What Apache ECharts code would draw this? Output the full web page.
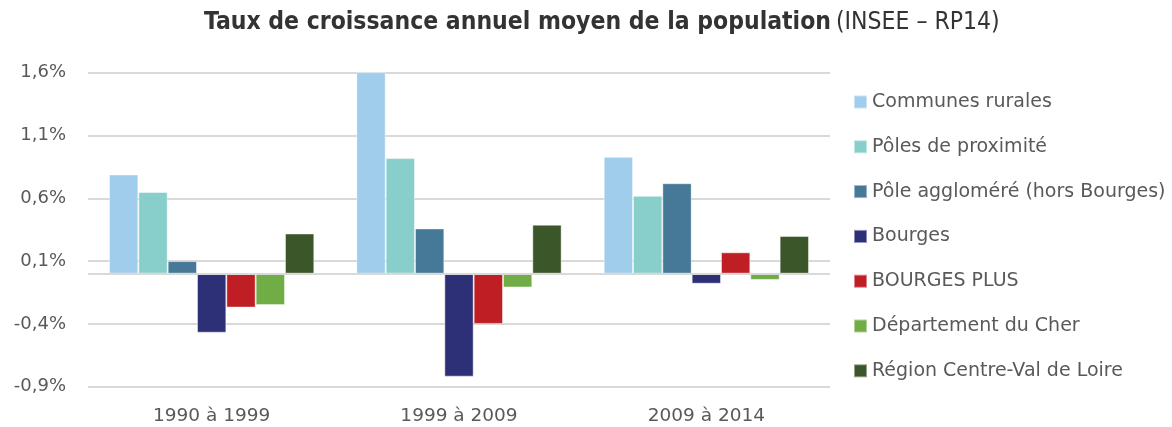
<!DOCTYPE html>
<html>
<head>
<meta charset="utf-8">
<script src="https://cdn.jsdelivr.net/npm/echarts@6/dist/echarts.min.js"></script>
<style>
  html, body { margin: 0; padding: 0; background: #fff; }
  #chart { width: 1172px; height: 427px; }
</style>
</head>
<body>
<div id="chart"></div>
<script>
// periodes
var periodes = ['1990 à 1999', '1999 à 2009', '2009 à 2014'];

// taux de croissance annuel moyen (%)
var communesRurales = [0.79, 1.61, 0.93];
var polesProximite = [0.65, 0.92, 0.62];
var poleAgglomere = [0.10, 0.36, 0.72];
var bourges = [-0.47, -0.82, -0.08];
var bourgesPlus = [-0.27, -0.40, 0.17];
var departementCher = [-0.25, -0.11, -0.05];
var regionCentre = [0.32, 0.39, 0.30];

// graduations affichees
var tickLabels = ['-0,9%', '-0,4%', '0,1%', '0,6%', '1,1%', '1,6%'];

var seriesNames = ['Communes rurales', 'Pôles de proximité', 'Pôle aggloméré (hors Bourges)',
  'Bourges', 'BOURGES PLUS', 'Département du Cher', 'Région Centre-Val de Loire'];
var seriesData = [communesRurales, polesProximite, poleAgglomere, bourges, bourgesPlus, departementCher, regionCentre];
var colors = ['#9FCDEB', '#88CFCC', '#467897', '#2E3077', '#BE1E24', '#70AD47', '#3B5729'];

var font = 'DejaVu Sans';
var titleFont = '"DejaVu Sans Condensed", "DejaVu Sans"';
var chart = echarts.init(document.getElementById('chart'));

var series = seriesNames.map(function (name, i) {
  var s = {
    name: name,
    type: 'bar',
    yAxisIndex: 0,
    barGap: '0%',
    barCategoryGap: '17%',
    data: seriesData[i],
    itemStyle: { color: colors[i], borderColor: 'rgba(255,255,255,0.45)', borderWidth: 1 },
    emphasis: { disabled: true }
  };
  if (i === 0) {
    // ligne du zero
    s.markLine = {
      silent: true,
      symbol: 'none',
      label: { show: false },
      lineStyle: { color: '#D9D9D9', width: 2, type: 'solid' },
      data: [{ yAxis: 0 }]
    };
  }
  return s;
});

chart.setOption({
  animation: false,
  color: colors,
  title: {
    text: '{b|Taux de croissance annuel moyen de la population} {n|(INSEE – RP14)}',
    left: 204,
    top: 10,
    padding: 0,
    textStyle: {
      rich: {
        b: { fontFamily: titleFont, fontWeight: 'bold', fontSize: 24.5, color: '#333333' },
        n: { fontFamily: titleFont, fontWeight: 'normal', fontSize: 24.5, color: '#333333' }
      }
    }
  },
  legend: {
    orient: 'vertical',
    left: 853,
    top: 92,
    padding: 0,
    icon: 'rect',
    itemWidth: 13,
    itemHeight: 13,
    itemGap: 24.8,
    textStyle: { fontFamily: font, fontSize: 19, color: '#595959', lineHeight: 20 },
    data: seriesNames
  },
  grid: { left: 88, right: 342, top: 72.7, bottom: 40.3 },
  xAxis: {
    type: 'category',
    data: periodes,
    axisLine: { show: false },
    axisTick: { show: false },
    axisLabel: { fontFamily: font, fontSize: 18.5, color: '#595959', margin: 20 }
  },
  yAxis: [
    {
      // axe des donnees
      type: 'value',
      min: -0.9,
      max: 1.6,
      show: false,
      splitLine: { show: false }
    },
    {
      // axe d'affichage des graduations
      type: 'value',
      position: 'left',
      min: 0,
      max: 5,
      interval: 1,
      axisLine: { show: false },
      axisTick: { show: false },
      splitLine: { lineStyle: { color: '#D9D9D9', width: 2 } },
      axisLabel: {
        fontFamily: font, fontSize: 18, color: '#595959', margin: 22,
        formatter: function (v) { return tickLabels[Math.round(v)]; }
      }
    }
  ],
  series: series
});
</script>
</body>
</html>
